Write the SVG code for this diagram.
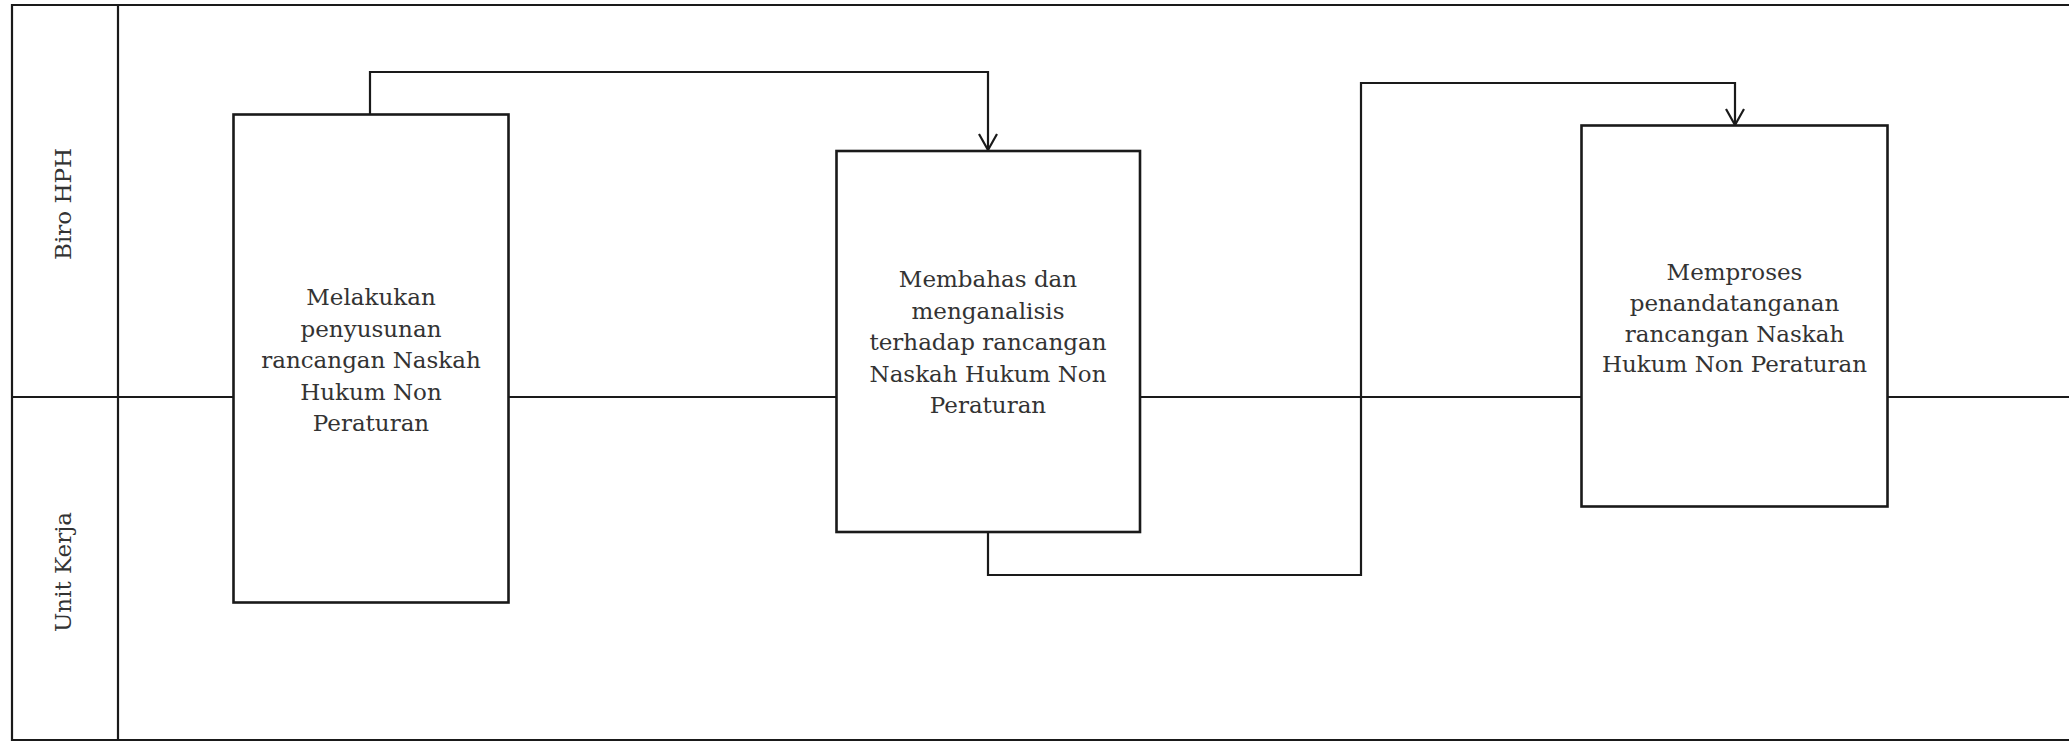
<svg xmlns="http://www.w3.org/2000/svg" width="2069" height="741" viewBox="0 0 2069 741">
<defs>
<marker id="arr" viewBox="0 0 20 20" refX="18" refY="10" markerWidth="20" markerHeight="20" markerUnits="userSpaceOnUse" orient="auto">
<path d="M2,1 L18,10 L2,19" fill="none" stroke="#1a1a1a" stroke-width="2.2"/>
</marker>
<style>
.ln{stroke:#1a1a1a;stroke-width:2.2;fill:none}
.box{stroke:#1a1a1a;stroke-width:2.6;fill:#fff}
.t{font-family:"DejaVu Serif","Liberation Serif",serif;font-size:23px;fill:#333;text-anchor:middle}
</style>
</defs>
<rect width="2069" height="741" fill="#fff"/>
<g id="pool">
<path class="ln" d="M2069,5 H12 V740 H2069"/>
<line class="ln" x1="118" y1="5" x2="118" y2="740"/>
<line class="ln" x1="12" y1="397" x2="2069" y2="397"/>
<text class="t" transform="translate(71,204) rotate(-90)">Biro HPH</text>
<text class="t" transform="translate(71,572) rotate(-90)">Unit Kerja</text>
</g>
<g id="connectors">
<path class="ln" d="M370,114 V72 H988 V150" marker-end="url(#arr)"/>
<path class="ln" d="M988,532 V575 H1361 V83 H1735 V125" marker-end="url(#arr)"/>
</g>
<g id="node1">
<rect class="box" x="233.5" y="114.5" width="275" height="488"/>
<text class="t"><tspan x="371" y="305">Melakukan</tspan><tspan x="371" y="336.5">penyusunan</tspan><tspan x="371" y="368">rancangan Naskah</tspan><tspan x="371" y="399.5">Hukum Non</tspan><tspan x="371" y="431">Peraturan</tspan></text>
</g>
<g id="node2">
<rect class="box" x="836.5" y="151" width="303.5" height="381"/>
<text class="t"><tspan x="988" y="287">Membahas dan</tspan><tspan x="988" y="318.5">menganalisis</tspan><tspan x="988" y="350">terhadap rancangan</tspan><tspan x="988" y="381.5">Naskah Hukum Non</tspan><tspan x="988" y="413">Peraturan</tspan></text>
</g>
<g id="node3">
<rect class="box" x="1581.5" y="125.5" width="306" height="381"/>
<text class="t"><tspan x="1734.5" y="280">Memproses</tspan><tspan x="1734.5" y="311">penandatanganan</tspan><tspan x="1734.5" y="341.5">rancangan Naskah</tspan><tspan x="1734.5" y="372">Hukum Non Peraturan</tspan></text>
</g>
</svg>
